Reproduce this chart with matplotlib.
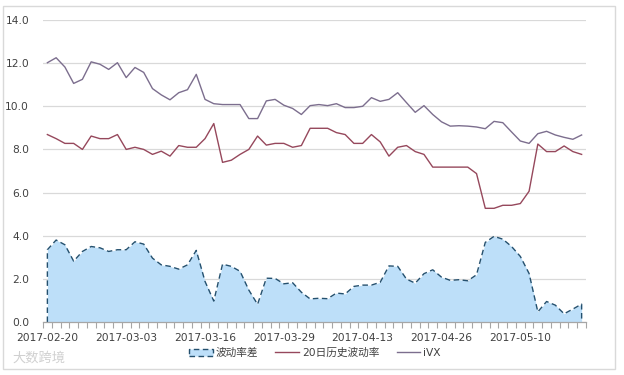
import matplotlib
matplotlib.use("Agg")
import matplotlib.pyplot as plt
from matplotlib.patches import Patch, Rectangle
from matplotlib.lines import Line2D

plt.rcParams['font.family'] = ['DejaVu Sans', 'Noto Sans CJK SC']

tick_labels = ["2017-02-20", "2017-03-03", "2017-03-16", "2017-03-29",
               "2017-04-13", "2017-04-26", "2017-05-10"]
tick_index = [0, 9, 18, 27, 36, 45, 54]

ivx = [12.02, 12.25, 11.82, 11.06, 11.25, 12.06, 11.95, 11.71, 12.02, 11.33,
       11.80, 11.57, 10.82, 10.53, 10.30, 10.63, 10.77, 11.48, 10.32, 10.12,
       10.08, 10.08, 10.08, 9.43, 9.43, 10.25, 10.32, 10.05, 9.90, 9.62,
       10.03, 10.08, 10.03, 10.12, 9.94, 9.94, 10.00, 10.40, 10.23, 10.32,
       10.63, 10.17, 9.72, 10.03, 9.62, 9.28, 9.08, 9.10, 9.08, 9.04,
       8.96, 9.30, 9.24, 8.81, 8.39, 8.28, 8.73, 8.84, 8.67, 8.56,
       8.47, 8.67]

hv20 = [8.69, 8.50, 8.28, 8.28, 8.00, 8.62, 8.50, 8.50, 8.69, 8.00,
        8.10, 8.00, 7.77, 7.92, 7.69, 8.18, 8.10, 8.10, 8.50, 9.20,
        7.40, 7.50, 7.77, 8.00, 8.62, 8.20, 8.28, 8.28, 8.10, 8.18,
        8.98, 8.98, 8.98, 8.78, 8.69, 8.28, 8.28, 8.69, 8.35, 7.69,
        8.10, 8.18, 7.90, 7.77, 7.18, 7.18, 7.18, 7.18, 7.18, 6.88,
        5.27, 5.27, 5.41, 5.41, 5.49, 6.06, 8.25, 7.90, 7.90, 8.16,
        7.90, 7.77]

vol_diff = [3.35, 3.80, 3.58, 2.82, 3.27, 3.50, 3.44, 3.27, 3.35, 3.35,
            3.72, 3.61, 2.96, 2.65, 2.58, 2.45, 2.65, 3.32, 1.88, 0.97,
            2.68, 2.58, 2.35, 1.48, 0.82, 2.03, 2.02, 1.77, 1.82, 1.38,
            1.07, 1.10, 1.08, 1.34, 1.30, 1.65, 1.71, 1.71, 1.84, 2.60,
            2.58, 1.99, 1.80, 2.24, 2.42, 2.08, 1.93, 1.96, 1.91, 2.19,
            3.69, 3.97, 3.84, 3.50, 3.04, 2.25, 0.47, 0.95, 0.78, 0.38,
            0.60, 0.83]

names = ["波动率差", "20日历史波动率", "iVX"]

c_fill = "#BDDFF9"
c_edge = "#24506E"
c_hv = "#96485C"
c_ivx = "#7C6E8E"
grid_c = "#D9D9D9"
text_c = "#404040"

fig = plt.figure(figsize=(6.24, 3.75), dpi=100)
ax = fig.add_axes([43/624, 53/375, 543/624, 302/375])

x = list(range(len(vol_diff)))
ax.fill_between(x, 0, vol_diff, color=c_fill, linewidth=0, zorder=2)
ax.plot([x[0]] + x + [x[-1]], [0] + vol_diff + [0], color=c_edge,
        linestyle=(0, (4, 2.5)), linewidth=1.0, zorder=3)
ax.plot(x, hv20, color=c_hv, linewidth=1.0, zorder=4)
ax.plot(x, ivx, color=c_ivx, linewidth=1.0, zorder=4)

ax.set_xlim(-0.5, len(x) - 0.5)
ax.set_ylim(0, 14)
ax.set_yticks([0, 2, 4, 6, 8, 10, 12, 14])
ax.set_yticklabels([f"{v:.1f}" for v in [0, 2, 4, 6, 8, 10, 12, 14]],
                   fontsize=7.7, color=text_c)
ax.yaxis.grid(True, color=grid_c, linewidth=0.9, zorder=0)
ax.set_axisbelow(True)
ax.tick_params(axis='y', length=0, pad=10)

ax.set_xticks([i - 0.5 for i in range(len(x) + 1)], minor=True)
ax.set_xticks(tick_index)
ax.set_xticklabels(tick_labels, fontsize=7.7, color=text_c)
ax.tick_params(axis='x', which='major', length=0, pad=8)
ax.tick_params(axis='x', which='minor', length=4, width=0.8, color="#A6A6A6",
               direction='out')

for s in ['top', 'right', 'left']:
    ax.spines[s].set_visible(False)
ax.spines['bottom'].set_color("#A6A6A6")
ax.spines['bottom'].set_linewidth(0.9)
ax.spines['bottom'].set_zorder(5)

handles = [Patch(facecolor=c_fill, edgecolor=c_edge, linestyle=(0, (4, 2.5)), linewidth=1.0),
           Line2D([0], [0], color=c_hv, linewidth=1.0),
           Line2D([0], [0], color=c_ivx, linewidth=1.0)]
fig.legend(handles, names, loc='center', bbox_to_anchor=(315/624, 22/375),
           ncol=3, frameon=False, fontsize=7.7, handlelength=2.2,
           handletextpad=0.3, columnspacing=1.6,
           labelcolor=text_c)

fig.patches.append(Rectangle((3/624, 6/375), 612/624, 363/375,
                             transform=fig.transFigure, fill=False,
                             edgecolor="#D9D9D9", linewidth=1.0))

fig.text(12/624, 17/375, "大数跨境", fontsize=9.5, color="#D0D0D0",
         family=['Noto Sans CJK SC', 'DejaVu Sans'], va='center', ha='left')

fig.savefig("out.png", dpi=100)
